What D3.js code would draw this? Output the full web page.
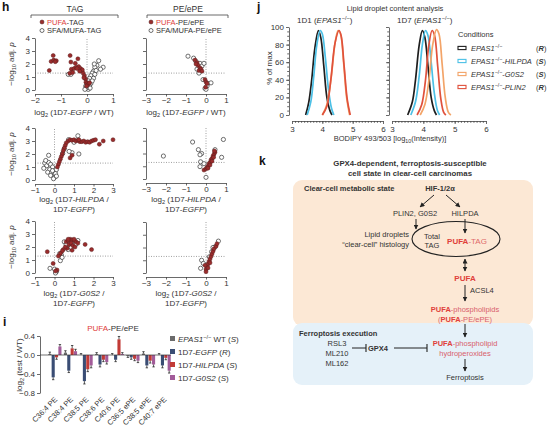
<!DOCTYPE html>
<html><head><meta charset="utf-8">
<script src="https://cdn.jsdelivr.net/npm/d3@7"></script>
<style>body{margin:0;background:#fff}svg{display:block}text{font-family:"Liberation Sans",Arial,sans-serif;fill:#333}</style>
</head><body><svg id="c" width="553" height="429"></svg>
<script>
// ---------------- DATA ----------------
// Panel h scatter data [log2 FC, -log10 adj p]
const tagEgfpPufa=[[-1.3,2.65],[-1.38,2.2],[-1.28,2.3],[-1.18,2.25],[-1.22,2.18],[-1.45,1.5],[-0.65,2.65],[-0.62,2.15],[-0.45,2.05],[-0.35,2.4],[-0.6,1.6],[-0.5,1.65],[-0.42,1.75],[-0.32,1.8],[-0.25,1.65],[-0.2,1.5],[-0.15,1.3],[-0.1,1.1],[-0.06,0.85],[-0.04,0.6],[0.0,0.5],[-0.18,1.55],[-0.66,1.28],[-0.55,1.35],[-0.38,1.65],[0.04,0.42],[0.1,0.55],[-0.02,0.3],[-0.28,1.45],[-0.12,0.95]];
const tagEgfpSfa=[[0.62,1.75],[0.52,1.6],[0.45,2.25],[0.38,1.9],[0.3,1.75],[0.25,1.45],[0.35,1.5],[0.2,1.3],[0.15,1.1],[0.1,0.9],[0.05,0.7],[0.0,0.55],[-0.05,0.3],[0.0,0.12],[0.05,0.05],[-0.02,0.18],[0.1,0.22],[0.15,0.5],[-0.72,1.2],[-0.62,1.2],[0.3,1.2],[0.25,0.9],[0.08,0.35],[-0.08,0.05],[0.2,0.7],[0.12,0.15],[0.28,2.0]];
const peEgfpPufa=[[-0.55,2.3],[-0.45,2.1],[-0.4,1.9],[-0.3,1.7],[-0.35,1.5],[-0.25,1.6],[-0.2,1.45],[-0.05,0.8],[0.0,0.62],[0.05,0.5],[-0.02,0.22],[-0.5,2.0]];
const peEgfpSfa=[[-0.9,2.6],[-0.62,2.45],[-0.5,2.2],[-0.3,2.05],[-0.2,1.85],[-0.1,2.05],[-0.45,1.6],[-0.15,0.8],[0.1,0.5],[0.25,0.55],[0.05,0.3],[-0.05,0.12],[0.0,0.05],[-0.35,1.3]];
const tagHilpdaPufa=[[0.7,3.0],[0.8,3.1],[0.9,3.05],[1.0,3.1],[1.1,3.0],[1.2,3.05],[1.3,2.95],[1.4,2.95],[1.5,3.0],[1.6,2.9],[1.7,2.95],[1.8,2.9],[1.9,3.0],[2.0,3.05],[2.1,3.1],[2.3,2.75],[2.5,3.0],[3.0,3.1],[0.6,2.85],[0.55,2.65],[0.5,2.45],[0.45,2.25],[0.4,2.0],[0.35,1.8],[0.3,1.6],[0.25,1.4],[0.2,1.2],[0.15,1.0],[0.8,1.7],[0.9,1.9],[1.25,3.1]];
const tagHilpdaSfa=[[1.2,3.4],[1.25,2.0],[0.9,2.1],[0.75,2.2],[0.42,2.05],[0.5,2.4],[-0.3,1.9],[-0.5,1.3],[-0.4,1.1],[-0.3,1.35],[-0.2,1.2],[-0.1,1.0],[-0.25,0.8],[-0.15,0.6],[0.0,0.4],[0.0,0.2],[0.05,0.5],[-0.35,0.6],[-0.55,0.9],[-0.1,0.72],[0.1,0.8],[-0.05,0.1],[0.1,0.3],[0.72,3.1],[1.0,2.9],[-0.45,1.5],[-0.2,0.35]];
const peHilpdaPufa=[[-0.1,0.7],[0.0,0.8],[0.05,0.9],[0.1,1.0],[0.15,1.2],[0.2,1.3],[0.25,1.5],[0.3,1.6],[0.35,1.8],[0.4,1.95],[0.45,2.1],[0.42,2.2],[0.3,1.4],[0.2,1.1],[0.1,0.85],[0.38,1.7]];
const peHilpdaSfa=[[-0.67,2.9],[0.87,3.1],[-2.13,1.8],[-0.38,2.3],[-0.22,2.0],[-0.3,1.9],[-0.27,1.35],[-0.1,1.2],[-0.3,0.97],[0.45,2.3],[0.78,1.7],[0.0,0.13]];
const tagG0s2Pufa=[[-0.37,1.64],[-0.07,0.74],[1.57,2.2],[1.9,1.8],[0.6,2.4],[0.7,2.5],[0.8,2.6],[0.9,2.55],[1.0,2.5],[1.1,2.4],[1.2,2.3],[0.75,2.2],[0.85,2.3],[0.95,2.1],[1.05,2.0],[0.65,1.9],[0.55,2.0],[0.45,1.8],[0.4,1.7],[0.9,1.75],[0.3,1.5],[0.2,1.3],[1.0,2.6],[0.7,2.6],[0.13,0.23],[0.05,0.15]];
const tagG0s2Sfa=[[0.5,2.4],[0.6,2.2],[0.8,2.0],[1.0,2.3],[1.1,2.2],[0.9,2.4],[0.7,1.8],[1.2,2.5],[0.35,1.4],[0.3,0.95],[0.39,1.2],[0.27,1.5],[0.0,0.3],[-0.23,0.36],[0.1,0.1],[0.05,0.0],[0.85,1.95]];
const peG0s2Pufa=[[0.0,0.3],[0.05,0.5],[0.1,0.7],[0.15,0.9],[0.2,1.1],[0.25,1.3],[0.3,1.5],[0.35,1.7],[0.4,1.9],[0.5,2.1],[0.55,2.3],[0.1,0.4],[0.2,0.8],[0.0,0.1],[-0.05,0.6]];
const peG0s2Sfa=[[0.62,2.5],[0.45,2.05],[0.28,1.67],[-0.22,1.0],[-0.27,0.37],[-0.13,0.75],[0.17,1.27],[0.35,2.0]];
const hYTicks=[0,1,2,3,4];
const hXTicksTag1=[-2,-1,0,1];
const hXTicksTag23=[-1,0,1,2,3];
const hXTicksPe=[-3,-2,-1,0,1];

// Panel i
const iCats=['C36:4 PE','C38:4 PE','C38:5 PE','C38:6 PE','C40:6 PE','C36:5 ePE','C38:5 ePE','C40:7 ePE'];
const iSeries=['WT','EGFP','HILPDA','G0S2'];
const wtVals=[0.02,0.05,0.0,0.02,0.0,-0.02,0.03,0.0];
const egfpVals=[-0.47,-0.33,-0.55,-0.2,-0.1,-0.05,-0.22,-0.22];
const hilpdaVals=[-0.05,0.14,-0.3,-0.1,0.33,-0.08,-0.12,-0.06];
const g0s2Vals=[0.18,0.08,-0.22,-0.15,0.02,-0.12,-0.2,-0.33];
const wtErr=[0.04,0.04,0.03,0.03,0.03,0.03,0.04,0.03];
const egfpErr=[0.05,0.04,0.06,0.05,0.04,0.04,0.05,0.05];
const hilpdaErr=[0.04,0.06,0.05,0.04,0.06,0.04,0.05,0.04];
const g0s2Err=[0.04,0.04,0.05,0.04,0.03,0.04,0.05,0.05];
const iYTicks=[0.4,0.0,-0.4,-0.8];

// Panel j histograms [log10 intensity, % of max]
const d1Parental=[[3.45,0],[3.55,14],[3.65,40],[3.75,75],[3.87,96],[3.95,88],[4.05,55],[4.15,20],[4.25,5],[4.32,0]];
const d1Hilpda=[[3.5,0],[3.62,15],[3.72,45],[3.82,80],[3.93,96],[4.0,92],[4.1,65],[4.2,30],[4.3,8],[4.38,0]];
const d1G0s2=[[4.0,0],[4.15,12],[4.3,45],[4.42,82],[4.52,96],[4.6,92],[4.7,60],[4.8,20],[4.9,0]];
const d1Plin2=[[4.0,0],[4.15,10],[4.28,40],[4.42,82],[4.55,96],[4.62,90],[4.72,55],[4.82,18],[4.92,0]];
const d7Parental=[[3.5,0],[3.65,15],[3.75,40],[3.87,80],[3.97,96],[4.05,88],[4.15,55],[4.25,20],[4.35,5],[4.42,0]];
const d7Hilpda=[[3.6,0],[3.75,15],[3.87,45],[3.97,80],[4.07,96],[4.15,90],[4.25,60],[4.35,25],[4.45,5],[4.52,0]];
const d7Plin2=[[3.8,0],[3.95,12],[4.07,40],[4.17,78],[4.28,96],[4.36,90],[4.46,55],[4.56,18],[4.65,3],[4.72,0]];
const d7G0s2=[[3.9,0],[4.05,12],[4.18,40],[4.3,80],[4.42,97],[4.5,92],[4.6,58],[4.7,20],[4.8,3],[4.88,0]];
const jXTicks=[3,4,5,6];
const jYTicks=[0,20,40,60,80,100];

// ---------------- DRAW ----------------
const svg=d3.select('#c');
const RED='#e0403a';
function rich(sel,x,y,parts,o={}){
  const fs=o.fs||8;
  const t=sel.append('text').attr('x',x).attr('y',y).attr('font-size',fs).attr('text-anchor',o.anchor||'start');
  if(o.bold)t.attr('font-weight','bold');
  if(o.fill)t.style('fill',o.fill);
  if(o.rotate)t.attr('transform',`rotate(${o.rotate},${x},${y})`);
  let off=0;
  parts.forEach(p=>{
    if(typeof p==='string')p={t:p};
    const s=t.append('tspan').text(p.t);
    const target=p.sup?-3:(p.sub?2:0);
    if(target!==off){s.attr('dy',target-off);off=target;}
    if(p.sup||p.sub)s.attr('font-size',fs*0.7);
    if(p.i)s.attr('font-style','italic');
    if(p.b)s.attr('font-weight','bold');
    if(p.c)s.style('fill',p.c);
  });
  return t;
}
function styleAxis(g,fs){
  g.selectAll('path.domain').attr('stroke','#444').attr('stroke-width',0.8);
  g.selectAll('.tick line').attr('stroke','#444').attr('stroke-width',0.8);
  g.selectAll('.tick text').attr('font-size',fs||8);
}

// panel letters
[['h',2,11],['i',3,326],['j',257,11],['k',259,165]].forEach(([t,x,y])=>
  svg.append('text').attr('x',x).attr('y',y).attr('font-size',12).attr('font-weight','bold').style('fill','#111').text(t));

// ---- panel h headers
function bracket(x1,x2,y){
  svg.append('path').attr('d',`M${x1},${y+3}V${y}H${x2}V${y+3}`).attr('fill','none').attr('stroke','#444').attr('stroke-width',0.8);
}
svg.append('text').attr('x',75).attr('y',12).attr('text-anchor','middle').attr('font-size',8.5).text('TAG');
svg.append('text').attr('x',188).attr('y',12).attr('text-anchor','middle').attr('font-size',8.5).text('PE/ePE');
bracket(31,118,15);bracket(147,228,15);
function hLegend(x,y,label){
  svg.append('circle').attr('cx',x).attr('cy',y).attr('r',2).attr('fill','#9b2c2c').attr('stroke','#4a1a1a').attr('stroke-width',0.5);
  rich(svg,x+5,y+2.7,[{t:'PUFA',c:RED},'-'+label],{fs:7.5});
  svg.append('circle').attr('cx',x).attr('cy',y+8.5).attr('r',2).attr('fill','#fff').attr('stroke','#333').attr('stroke-width',0.7);
  rich(svg,x+5,y+11.2,['SFA/MUFA-'+label],{fs:7.5});
}
hLegend(42,22,'TAG');hLegend(151,22,'PE/ePE');

function scatter(c){
  const x=d3.scaleLinear().domain(c.xd).range(c.xr);
  const y=d3.scaleLinear().domain([0,4]).range(c.yr);
  const g=svg.append('g');
  g.append('line').attr('x1',x(c.xd[0])).attr('x2',x(c.xd[1])).attr('y1',y(1.3)).attr('y2',y(1.3))
    .attr('stroke','#888').attr('stroke-width',0.8).attr('stroke-dasharray','1,1.5');
  g.append('line').attr('x1',x(0)).attr('x2',x(0)).attr('y1',y(0)).attr('y2',y(4))
    .attr('stroke','#888').attr('stroke-width',0.8).attr('stroke-dasharray','1,1.5');
  const xa=g.append('g').attr('transform',`translate(0,${c.yr[0]+4})`)
    .call(d3.axisBottom(x).tickValues(c.xt).tickSize(2.5).tickSizeOuter(0).tickPadding(1).tickFormat(d3.format('d')));
  styleAxis(xa,8);
  const ya=g.append('g').attr('transform',`translate(${c.xr[0]},0)`)
    .call(d3.axisLeft(y).tickValues(hYTicks).tickSize(3).tickSizeOuter(0).tickPadding(2).tickFormat(c.ylab?d3.format('d'):()=>''));
  styleAxis(ya,8);
  g.selectAll(null).data(c.open).join('circle').attr('cx',d=>x(d[0])).attr('cy',d=>y(d[1])).attr('r',2.1)
    .attr('fill','#fff').attr('stroke','#333').attr('stroke-width',0.7);
  g.selectAll(null).data(c.filled).join('circle').attr('cx',d=>x(d[0])).attr('cy',d=>y(d[1])).attr('r',2)
    .attr('fill','#9b2c2c').attr('stroke','#5a1e1e').attr('stroke-width',0.5);
  const cx=(c.xr[0]+c.xr[1])/2;
  c.title.forEach((ln,k)=>rich(g,cx,c.ty+k*10,ln,{anchor:'middle',fs:8}));
  if(c.ylab) rich(g,14,(c.yr[0]+c.yr[1])/2,['−log',{t:'10',sub:true},' adj. ',{t:'p',i:true}],{anchor:'middle',fs:8,rotate:-90});
}
const egfpT=[['log',{t:'2',sub:true},' (1D7-',{t:'EGFP',i:true},' / WT)']];
scatter({xd:[-2,1],xr:[35,113],yr:[90,38],xt:hXTicksTag1,ylab:true,open:tagEgfpSfa,filled:tagEgfpPufa,title:egfpT,ty:115});
scatter({xd:[-3,1],xr:[146,226],yr:[90,38],xt:hXTicksPe,ylab:false,open:peEgfpSfa,filled:peEgfpPufa,title:egfpT,ty:115});
const hilT=[['log',{t:'2',sub:true},' (1D7-',{t:'HILPDA',i:true},' /'],['1D7-',{t:'EGFP',i:true},')']];
scatter({xd:[-1,3],xr:[35,113],yr:[180,128],xt:hXTicksTag23,ylab:true,open:tagHilpdaSfa,filled:tagHilpdaPufa,title:hilT,ty:202});
scatter({xd:[-3,1],xr:[146,226],yr:[179,128],xt:hXTicksPe,ylab:false,open:peHilpdaSfa,filled:peHilpdaPufa,title:hilT,ty:202});
const g0T=[['log',{t:'2',sub:true},' (1D7-',{t:'G0S2',i:true},' /'],['1D7-',{t:'EGFP',i:true},')']];
scatter({xd:[-1,3],xr:[35,113],yr:[273,221],xt:hXTicksTag23,ylab:true,open:tagG0s2Sfa,filled:tagG0s2Pufa,title:g0T,ty:296});
scatter({xd:[-3,1],xr:[146,226],yr:[273,222],xt:hXTicksPe,ylab:false,open:peG0s2Sfa,filled:peG0s2Pufa,title:g0T,ty:296});

// ---- panel i
(function(){
  const g=svg.append('g');
  const y=d3.scaleLinear().domain([-0.8,0.4]).range([393,336]);
  const x0=d3.scaleBand().domain(iCats).range([48,171]).paddingInner(0.12);
  const x1=d3.scaleBand().domain(iSeries).range([0,x0.bandwidth()]).padding(0.08);
  const vals={WT:wtVals,EGFP:egfpVals,HILPDA:hilpdaVals,G0S2:g0s2Vals};
  const errs={WT:wtErr,EGFP:egfpErr,HILPDA:hilpdaErr,G0S2:g0s2Err};
  const col={WT:'#6b6b6b',EGFP:'#3a4d74',HILPDA:'#c23a36',G0S2:'#a25b99'};
  const ya=g.append('g').attr('transform','translate(40,0)')
    .call(d3.axisLeft(y).tickValues(iYTicks).tickSize(3).tickSizeOuter(0).tickPadding(2).tickFormat(d3.format('.1f')));
  styleAxis(ya,8);
  iSeries.forEach(s=>{
    const data=iCats.map((c,k)=>({c,v:vals[s][k],e:errs[s][k]}));
    g.selectAll(null).data(data).join('rect')
      .attr('x',d=>x0(d.c)+x1(s)).attr('width',x1.bandwidth())
      .attr('y',d=>y(Math.max(0,d.v))).attr('height',d=>Math.abs(y(d.v)-y(0)))
      .attr('fill',col[s]);
    data.forEach(d=>{
      const cx=x0(d.c)+x1(s)+x1.bandwidth()/2;
      const tip=d.v>=0?d.v+d.e:d.v-d.e;
      g.append('line').attr('x1',cx).attr('x2',cx).attr('y1',y(d.v)).attr('y2',y(tip)).attr('stroke','#111').attr('stroke-width',0.7);
      g.append('line').attr('x1',cx-1.2).attr('x2',cx+1.2).attr('y1',y(tip)).attr('y2',y(tip)).attr('stroke','#111').attr('stroke-width',0.7);
    });
  });
  g.append('line').attr('x1',40).attr('x2',171).attr('y1',y(0)).attr('y2',y(0)).attr('stroke','#333').attr('stroke-width',0.7);
  iCats.forEach(c=>{
    const cx=x0(c)+x0.bandwidth()/2+3;
    g.append('text').attr('x',cx).attr('y',400).attr('font-size',7.5).attr('text-anchor','end')
      .attr('transform',`rotate(-45,${cx},400)`).text(c);
  });
  rich(g,22,365,['log',{t:'2',sub:true},' (test / WT)'],{anchor:'middle',fs:8,rotate:-90});
  rich(g,113,331,[{t:'PUFA',c:RED},'-PE/ePE'],{anchor:'middle',fs:8});
  const leg=[
    ['WT',[{t:'EPAS1',i:true},{t:'−/−',sup:true},' WT (',{t:'S',i:true},')']],
    ['EGFP',['1D7-',{t:'EGFP',i:true},' (',{t:'R',i:true},')']],
    ['HILPDA',['1D7-',{t:'HILPDA',i:true},' (',{t:'S',i:true},')']],
    ['G0S2',['1D7-',{t:'G0S2',i:true},' (',{t:'S',i:true},')']]];
  leg.forEach(([s,parts],k)=>{
    const yy=339+k*13;
    g.append('rect').attr('x',170).attr('y',yy-3).attr('width',5).attr('height',5).attr('fill',col[s]);
    rich(g,178,yy+2.8,parts,{fs:8});
  });
})();

// ---- panel j
(function(){
  const g=svg.append('g');
  const y=d3.scaleLinear().domain([0,100]).range([115,27]);
  const xs=[d3.scaleLinear().domain([3,6]).range([292,383]),d3.scaleLinear().domain([3,6]).range([392,486])];
  const col={par:'#1e1e1e',hil:'#4cc0e6',g0:'#f3a468',pl:'#e0513c'};
  const sets=[[['par',d1Parental],['hil',d1Hilpda],['g0',d1G0s2],['pl',d1Plin2]],
              [['par',d7Parental],['hil',d7Hilpda],['pl',d7Plin2],['g0',d7G0s2]]];
  xs.forEach((x,k)=>{
    const xa=g.append('g').attr('transform','translate(0,121)')
      .call(d3.axisBottom(x).tickValues(jXTicks).tickSize(3).tickSizeOuter(0).tickPadding(2).tickFormat(d3.format('d')));
    styleAxis(xa,8);
    const xm=g.append('g').attr('transform','translate(0,121)')
      .call(d3.axisBottom(x).tickValues(d3.range(31,60).map(v=>v/10)).tickSize(1.8).tickFormat(''));
    styleAxis(xm);xm.select('path.domain').remove();
    const yx=x.range()[0]-3;
    const ya=g.append('g').attr('transform',`translate(${yx},0)`)
      .call(d3.axisLeft(y).tickValues(jYTicks).tickSize(3).tickSizeOuter(0).tickPadding(2).tickFormat(k===0?d3.format('d'):()=>''));
    styleAxis(ya,8);
    const ym=g.append('g').attr('transform',`translate(${yx},0)`)
      .call(d3.axisLeft(y).tickValues(d3.range(5,100,5)).tickSize(1.8).tickFormat(''));
    styleAxis(ym);ym.select('path.domain').remove();
    const line=d3.line().x(d=>x(d[0])).y(d=>y(d[1])).curve(d3.curveCatmullRom);
    sets[k].forEach(([key,data])=>{
      g.append('path').datum(data).attr('d',line).attr('fill','none').attr('stroke',col[key]).attr('stroke-width',1.7);
    });
  });
  g.append('text').attr('x',395).attr('y',11).attr('text-anchor','middle').attr('font-size',7.5).text('Lipid droplet content analysis');
  rich(g,297,23,['1D1 (',{t:'EPAS1',i:true},{t:'−/−',sup:true},')'],{fs:8});
  rich(g,397,23,['1D7 (',{t:'EPAS1',i:true},{t:'−/−',sup:true},')'],{fs:8});
  rich(g,272,68,['% of max'],{anchor:'middle',fs:8,rotate:-90});
  rich(g,390,141,['BODIPY 493/503 [log',{t:'10',sub:true},'(Intensity)]'],{anchor:'middle',fs:7.5});
  g.append('text').attr('x',458).attr('y',37).attr('font-size',7.5).text('Conditions');
  const leg=[['par',[]],['hil',['-',{t:'HILPDA',i:true}]],['g0',['-',{t:'G0S2',i:true}]],['pl',['-',{t:'PLIN2',i:true}]]];
  const tags=['R','S','S','R'];
  leg.forEach(([key,rest],k)=>{
    const yy=48+k*13;
    g.append('rect').attr('x',458).attr('y',yy-1.6).attr('width',8).attr('height',3.2).attr('fill','#fff').attr('stroke',col[key]).attr('stroke-width',1.1);
    rich(g,471,yy+2.7,[{t:'EPAS1',i:true},{t:'−/−',sup:true},...rest],{fs:7.5});
    rich(g,536,yy+2.7,['(',{t:tags[k],i:true,b:true},')'],{fs:7.5});
  });
})();

// ---- panel k
(function(){
  const g=svg.append('g');
  const defs=svg.append('defs');
  defs.append('marker').attr('id','ah').attr('viewBox','0 0 10 10').attr('refX',9).attr('refY',5)
    .attr('markerWidth',5).attr('markerHeight',5).attr('orient','auto-start-reverse')
    .append('path').attr('d','M0,0L10,5L0,10z').attr('fill','#222');
  g.append('rect').attr('x',293).attr('y',180).attr('width',240).attr('height',146).attr('rx',9).attr('fill','#fce8d5');
  g.append('rect').attr('x',293).attr('y',323).attr('width',240).attr('height',62).attr('rx',9).attr('fill','#e5f1f9');
  const t=(x,y,parts,o={})=>rich(g,x,y,parts,Object.assign({fs:7.5},o));
  t(410,166,['GPX4-dependent, ferroptosis-susceptible'],{anchor:'middle',bold:true,fs:7.8});
  t(410,176,['cell state in clear-cell carcinomas'],{anchor:'middle',bold:true,fs:7.8});
  t(304,191,['Clear-cell metabolic state'],{bold:true});
  t(440,191,['HIF-1/2α'],{anchor:'middle',bold:true});
  const arrow=(x1,y1,x2,y2,both)=>{const l=g.append('line').attr('x1',x1).attr('y1',y1).attr('x2',x2).attr('y2',y2)
    .attr('stroke','#222').attr('stroke-width',1).attr('marker-end','url(#ah)');if(both)l.attr('marker-start','url(#ah)');};
  arrow(434,195,420,207);arrow(446,195,460,207);
  t(415,216,['PLIN2, G0S2'],{anchor:'middle'});
  t(465,216,['HILPDA'],{anchor:'middle'});
  arrow(416,219,416,229);arrow(465,219,465,233);
  g.append('ellipse').attr('cx',456).attr('cy',239).attr('rx',44).attr('ry',17.5).attr('fill','none').attr('stroke','#222').attr('stroke-width',1.1);
  t(432,239,['Total'],{anchor:'middle'});t(432,248,['TAG'],{anchor:'middle'});
  t(467,244,[{t:'PUFA',b:true,c:RED},{t:'-TAG',c:'#e06a6a'}],{anchor:'middle',fs:8});
  t(409,237,['Lipid droplets'],{anchor:'end'});
  t(409,247,['“clear-cell” histology'],{anchor:'end'});
  arrow(465,259,465,271,true);
  t(465,281,[{t:'PUFA',b:true,c:RED}],{anchor:'middle',fs:8});
  arrow(465,285,465,301);
  t(470,293,['ACSL4']);
  t(465,312,[{t:'PUFA',b:true,c:RED},{t:'-phospholipids',c:'#d8606c'}],{anchor:'middle'});
  t(465,322,[{t:'(',c:'#d8606c'},{t:'PUFA',b:true,c:RED},{t:'-PE/ePE)',c:'#d8606c'}],{anchor:'middle'});
  arrow(465,324,465,337);
  t(299,336,['Ferroptosis execution'],{bold:true});
  t(337,346,['RSL3'],{anchor:'middle'});t(337,356,['ML210'],{anchor:'middle'});t(337,366,['ML162'],{anchor:'middle'});
  const inhib=(x1,x2,y)=>{g.append('line').attr('x1',x1).attr('x2',x2).attr('y1',y).attr('y2',y).attr('stroke','#222').attr('stroke-width',1);
    g.append('line').attr('x1',x2).attr('x2',x2).attr('y1',y-4).attr('y2',y+4).attr('stroke','#222').attr('stroke-width',1.1);};
  inhib(352,366,348);
  t(368,351,['GPX4'],{bold:true});
  inhib(394,427,348);
  t(465,346,[{t:'PUFA',b:true,c:RED},{t:'-phospholipid',c:'#d8606c'}],{anchor:'middle'});
  t(465,356,[{t:'hydroperoxides',c:'#d8606c'}],{anchor:'middle'});
  arrow(465,359,465,371);
  t(465,380,['Ferroptosis'],{anchor:'middle'});
})();
</script></body></html>
